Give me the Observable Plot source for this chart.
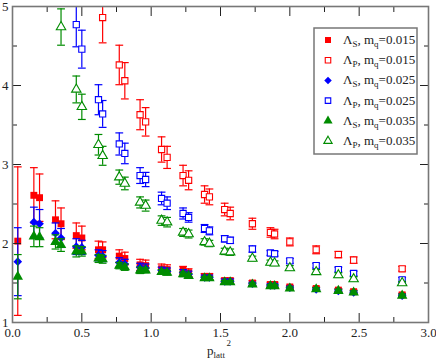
<!DOCTYPE html>
<html><head><meta charset="utf-8">
<script src="https://cdn.jsdelivr.net/npm/d3@7"></script>
<script src="https://cdn.jsdelivr.net/npm/@observablehq/plot@0.6"></script>
<style>body{margin:0;background:#fff}</style>
</head><body><div id="chart"></div>
<script>
// p_latt^2 values (shared by all series)
const p2 = [0.038, 0.154, 0.195, 0.31, 0.35, 0.46, 0.50, 0.62, 0.65, 0.77, 0.81, 0.92, 0.96, 1.075, 1.115, 1.23, 1.27, 1.385, 1.42, 1.53, 1.57, 1.73, 1.86, 1.89, 2.0, 2.19, 2.35, 2.46, 2.81];

// Lambda_S
const lamS015 = [2.03, 2.61, 2.58, 2.30, 2.25, 2.10, 2.07, 1.92, 1.92, 1.84, 1.81, 1.73, 1.72, 1.68, 1.67, 1.66, 1.63, 1.58, 1.58, 1.53, 1.53, 1.50, 1.48, 1.48, 1.45, 1.43, 1.41, 1.39, 1.35];
const errS015 = [0.94, 0.35, 0.30, 0.24, 0.20, 0.16, 0.15, 0.11, 0.10, 0.08, 0.08, 0.07, 0.07, 0.06, 0.06, 0.05, 0.05, 0.04, 0.04, 0.03, 0.03, 0.03, 0.03, 0.03, 0.02, 0.02, 0.02, 0.02, 0.02];
const lamS025 = [1.77, 2.27, 2.25, 2.13, 2.07, 1.96, 1.95, 1.85, 1.84, 1.76, 1.74, 1.70, 1.69, 1.66, 1.65, 1.63, 1.61, 1.57, 1.57, 1.52, 1.52, 1.49, 1.47, 1.47, 1.44, 1.42, 1.40, 1.38, 1.34];
const errS025 = [0.43, 0.19, 0.18, 0.13, 0.12, 0.10, 0.09, 0.07, 0.07, 0.06, 0.06, 0.05, 0.05, 0.04, 0.04, 0.04, 0.04, 0.03, 0.03, 0.03, 0.03, 0.02, 0.02, 0.02, 0.02, 0.02, 0.02, 0.02, 0.02];
const lamS035 = [1.58, 2.09, 2.08, 2.02, 1.98, 1.90, 1.90, 1.81, 1.80, 1.72, 1.70, 1.66, 1.66, 1.64, 1.63, 1.61, 1.59, 1.56, 1.56, 1.51, 1.51, 1.48, 1.46, 1.46, 1.43, 1.42, 1.40, 1.38, 1.34];
const errS035 = [0.28, 0.13, 0.12, 0.09, 0.08, 0.07, 0.06, 0.05, 0.05, 0.04, 0.04, 0.04, 0.03, 0.03, 0.03, 0.03, 0.03, 0.02, 0.02, 0.02, 0.02, 0.02, 0.02, 0.02, 0.02, 0.02, 0.02, 0.02, 0.02];

// Lambda_P (null = above the plotted range)
const lamP015 = [null, null, null, null, null, null, null, null, 4.86, 4.26, 4.06, 3.63, 3.54, 3.19, 3.09, 2.86, 2.80, 2.62, 2.59, 2.43, 2.38, 2.25, 2.14, 2.12, 2.02, 1.92, 1.86, 1.79, 1.68];
const errP015 = [null, null, null, null, null, null, null, null, 0.32, 0.25, 0.23, 0.19, 0.18, 0.16, 0.14, 0.13, 0.12, 0.11, 0.10, 0.08, 0.08, 0.07, 0.06, 0.06, 0.05, 0.05, 0.04, 0.04, 0.03];
const lamP025 = [null, null, null, null, null, 4.77, 4.46, 3.82, 3.64, 3.26, 3.14, 2.86, 2.81, 2.57, 2.51, 2.38, 2.33, 2.19, 2.16, 2.06, 2.04, 1.93, 1.88, 1.87, 1.78, 1.72, 1.67, 1.62, 1.54];
const errP025 = [null, null, null, null, null, 0.28, 0.24, 0.19, 0.17, 0.14, 0.13, 0.10, 0.09, 0.08, 0.08, 0.07, 0.06, 0.05, 0.05, 0.04, 0.04, 0.04, 0.03, 0.03, 0.03, 0.03, 0.03, 0.03, 0.03];
const lamP035 = [null, null, null, null, 4.74, 3.95, 3.73, 3.25, 3.11, 2.84, 2.76, 2.52, 2.48, 2.29, 2.27, 2.14, 2.12, 2.02, 2.00, 1.90, 1.89, 1.81, 1.76, 1.75, 1.69, 1.64, 1.60, 1.55, 1.50];
const errP035 = [null, null, null, null, 0.23, 0.17, 0.16, 0.13, 0.12, 0.09, 0.08, 0.07, 0.07, 0.06, 0.06, 0.05, 0.05, 0.04, 0.04, 0.04, 0.04, 0.03, 0.03, 0.03, 0.03, 0.03, 0.03, 0.03, 0.02];

const xTicks = [0, 0.5, 1.0, 1.5, 2.0, 2.5, 3.0];
const xMinor = [0.25, 0.75, 1.25, 1.75, 2.25, 2.75];
const yTicks = [1, 2, 3, 4, 5];
const yMinor = [1.5, 2.5, 3.5, 4.5];

const RED = "#ff0000", BLUE = "#0000ff", GREEN = "#008c00";
const series = [
  {lam: "S", mq: "0.015", y: lamS015, e: errS015, color: RED, symbol: "square", filled: true},
  {lam: "P", mq: "0.015", y: lamP015, e: errP015, color: RED, symbol: "square", filled: false},
  {lam: "S", mq: "0.025", y: lamS025, e: errS025, color: BLUE, symbol: "diamond2", filled: true},
  {lam: "P", mq: "0.025", y: lamP025, e: errP025, color: BLUE, symbol: "square", filled: false},
  {lam: "S", mq: "0.035", y: lamS035, e: errS035, color: GREEN, symbol: "triangle", filled: true},
  {lam: "P", mq: "0.035", y: lamP035, e: errP035, color: GREEN, symbol: "triangle", filled: false}
];

const cap = {draw(ctx, size) { const w = Math.sqrt(size) / 2; ctx.moveTo(-w, 0); ctx.lineTo(w, 0); }};

const marks = [];
for (const s of series) {
  const data = p2.map((x, i) => ({x, y: s.y[i], e: s.e[i]})).filter(d => d.y != null);
  marks.push(Plot.ruleX(data, {x: "x", y1: d => d.y - d.e, y2: d => d.y + d.e, stroke: s.color, strokeWidth: 1.2, clip: true}));
  marks.push(Plot.dot(data, {x: "x", y: d => d.y + d.e, symbol: cap, r: 4.4, stroke: s.color, fill: "none", strokeWidth: 1.2, clip: true}));
  marks.push(Plot.dot(data, {x: "x", y: d => d.y - d.e, symbol: cap, r: 4.4, stroke: s.color, fill: "none", strokeWidth: 1.2, clip: true}));
  marks.push(Plot.dot(data, {x: "x", y: "y", symbol: s.symbol, r: s.filled ? 3.9 : 3.5,
    fill: s.filled ? s.color : "white", stroke: s.filled ? "none" : s.color, strokeWidth: 1.1, clip: true}));
}

const chart = Plot.plot({
  width: 436, height: 360,
  marginLeft: 12, marginRight: 8, marginTop: 6, marginBottom: 38,
  style: {fontFamily: "'Liberation Serif', 'DejaVu Serif', serif", fontSize: "13px", color: "#222", background: "#fff"},
  x: {domain: [0, 3], label: null},
  y: {domain: [1, 5], label: null},
  marks: [
    ...marks,
    Plot.axisX(xTicks, {anchor: "bottom", tickSize: -9, tickFormat: () => "", stroke: "#222"}),
    Plot.axisX(xMinor, {anchor: "bottom", tickSize: -5, tickFormat: () => "", stroke: "#222"}),
    Plot.axisX(xTicks, {anchor: "top", tickSize: -9, tickFormat: () => "", stroke: "#222"}),
    Plot.axisX(xMinor, {anchor: "top", tickSize: -5, tickFormat: () => "", stroke: "#222"}),
    Plot.axisX(xTicks, {anchor: "bottom", tickSize: 0, tickPadding: 5, tickFormat: d3.format(".1f"), fill: "#222"}),
    Plot.axisY(yTicks, {anchor: "left", tickSize: -9, tickFormat: () => "", stroke: "#222"}),
    Plot.axisY(yMinor, {anchor: "left", tickSize: -5, tickFormat: () => "", stroke: "#222"}),
    Plot.axisY(yTicks, {anchor: "right", tickSize: -9, tickFormat: () => "", stroke: "#222"}),
    Plot.axisY(yMinor, {anchor: "right", tickSize: -5, tickFormat: () => "", stroke: "#222"}),
    Plot.axisY(yTicks, {anchor: "left", tickSize: 0, tickPadding: 4, tickFormat: d3.format("d"), fill: "#222"}),
    Plot.frame({stroke: "#777", strokeWidth: 1.6})
  ]
});

document.getElementById("chart").appendChild(chart);

// axis label p_latt^2 and legend
const svg = d3.select(chart);
const fam = "'Liberation Serif', 'DejaVu Serif', serif";
const xl = svg.append("text").attr("x", 207).attr("y", 355).attr("text-anchor", "start")
  .attr("font-family", fam).attr("font-size", 13).attr("fill", "#222");
xl.append("tspan").text("p");
xl.append("tspan").attr("font-size", 9).attr("dy", 3).text("latt");
svg.append("text").attr("x", 226.5).attr("y", 345.5).attr("text-anchor", "start")
  .attr("font-family", fam).attr("font-size", 9).attr("fill", "#222").text("2");

const lg = svg.append("g").attr("text-anchor", "start");
lg.append("rect").attr("x", 314).attr("y", 28).attr("width", 103).attr("height", 126)
  .attr("fill", "white").attr("stroke", "#777").attr("stroke-width", 1.5);
const symMap = {square: d3.symbolSquare, diamond2: d3.symbolDiamond2, triangle: d3.symbolTriangle};
series.forEach((s, i) => {
  const cy = 40 + i * 20.2;
  const r = s.filled ? 3.4 : 3.1;
  lg.append("path").attr("d", d3.symbol(symMap[s.symbol], Math.PI * r * r)())
    .attr("transform", `translate(328,${cy})`)
    .attr("fill", s.filled ? s.color : "white").attr("stroke", s.filled ? "none" : s.color).attr("stroke-width", 1.1);
  const t = lg.append("text").attr("x", 343).attr("y", cy + 4).attr("font-family", fam).attr("font-size", 13).attr("fill", "#222");
  t.append("tspan").text("\u039B");
  t.append("tspan").attr("font-size", 9).attr("dy", 3).text(s.lam);
  t.append("tspan").attr("dy", -3).text(", m");
  t.append("tspan").attr("font-size", 9).attr("dy", 3).text("q");
  t.append("tspan").attr("dy", -3).text("=" + s.mq);
});
</script>
</body></html>
